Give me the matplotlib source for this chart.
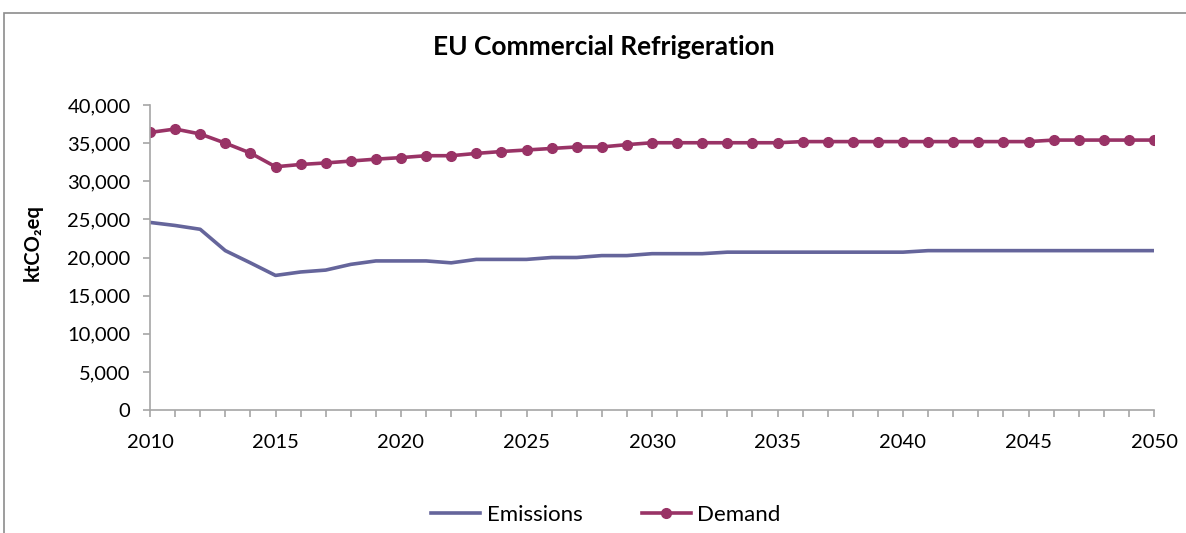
import matplotlib
matplotlib.use("Agg")
import matplotlib.pyplot as plt
from matplotlib.patches import Rectangle
from matplotlib.ticker import FuncFormatter, MultipleLocator

plt.rcParams['font.family'] = ['Lato', 'DejaVu Sans']

years = list(range(2010, 2051))
emissions = [24600, 24200, 23700, 20900, 19300, 17650, 18100, 18350, 19100, 19550,
             19550, 19550, 19300, 19750, 19750, 19750, 20000, 20000, 20250, 20250,
             20500, 20500, 20500, 20700, 20700, 20700, 20700, 20700, 20700, 20700,
             20700, 20900, 20900, 20900, 20900, 20900, 20900, 20900, 20900, 20900,
             20900]
demand = [36400, 36850, 36200, 35000, 33700, 31900, 32200, 32400, 32650, 32900,
          33100, 33350, 33350, 33650, 33900, 34100, 34300, 34500, 34500, 34800,
          35050, 35050, 35050, 35050, 35050, 35050, 35200, 35200, 35200, 35200,
          35200, 35200, 35200, 35200, 35200, 35200, 35400, 35400, 35400, 35400,
          35400]

W, H = 1186, 533
fig = plt.figure(figsize=(W / 100, H / 100), dpi=100)
frame_top = 1 - 13 / H
fig.patches.append(Rectangle((4 / W, -0.1), 1.2, frame_top + 0.1,
                             transform=fig.transFigure, fill=False,
                             edgecolor='#8c8c8c', linewidth=1.2))
ax = fig.add_axes([150 / W, 1 - 410 / H, (1154 - 150) / W, (410 - 105) / H])

ax.plot(years, emissions, color='#65659b', linewidth=2.6, label='Emissions')
ax.plot(years, demand, color='#993366', linewidth=2.6, marker='o', markersize=7,
        label='Demand')

ax.set_xlim(2010, 2050)
ax.set_ylim(0, 40000)
ax.xaxis.set_major_locator(MultipleLocator(5))
ax.xaxis.set_minor_locator(MultipleLocator(1))
ax.yaxis.set_major_locator(MultipleLocator(5000))
ax.yaxis.set_major_formatter(FuncFormatter(lambda v, p: f"{int(v):,}"))

for s in ('top', 'right'):
    ax.spines[s].set_visible(False)
for s in ('left', 'bottom'):
    ax.spines[s].set_color('#a6a6a6')
    ax.spines[s].set_linewidth(1.2)
ax.tick_params(axis='both', which='both', direction='out', color='#a6a6a6',
               width=1.2, labelsize=14.5, labelcolor='black')
ax.tick_params(axis='x', which='major', length=5, pad=12)
ax.tick_params(axis='x', which='minor', length=5)
ax.tick_params(axis='y', length=5, pad=9)

ax.set_ylabel('ktCO₂eq', fontsize=14.5, fontweight='bold')
ax.yaxis.set_label_coords(-(150 - 43) / 1004, (410 - 243) / 305)
fig.text(603.5 / W, 1 - 47 / H, 'EU Commercial Refrigeration', ha='center',
         va='center', fontsize=19, fontweight='bold')

fig.legend(loc='center', bbox_to_anchor=(606 / W, 1 - 515 / H), ncol=2,
           frameon=False, fontsize=16, handlelength=2.2, columnspacing=2.65,
           handletextpad=0.3)

fig.savefig('out.png', dpi=100)
